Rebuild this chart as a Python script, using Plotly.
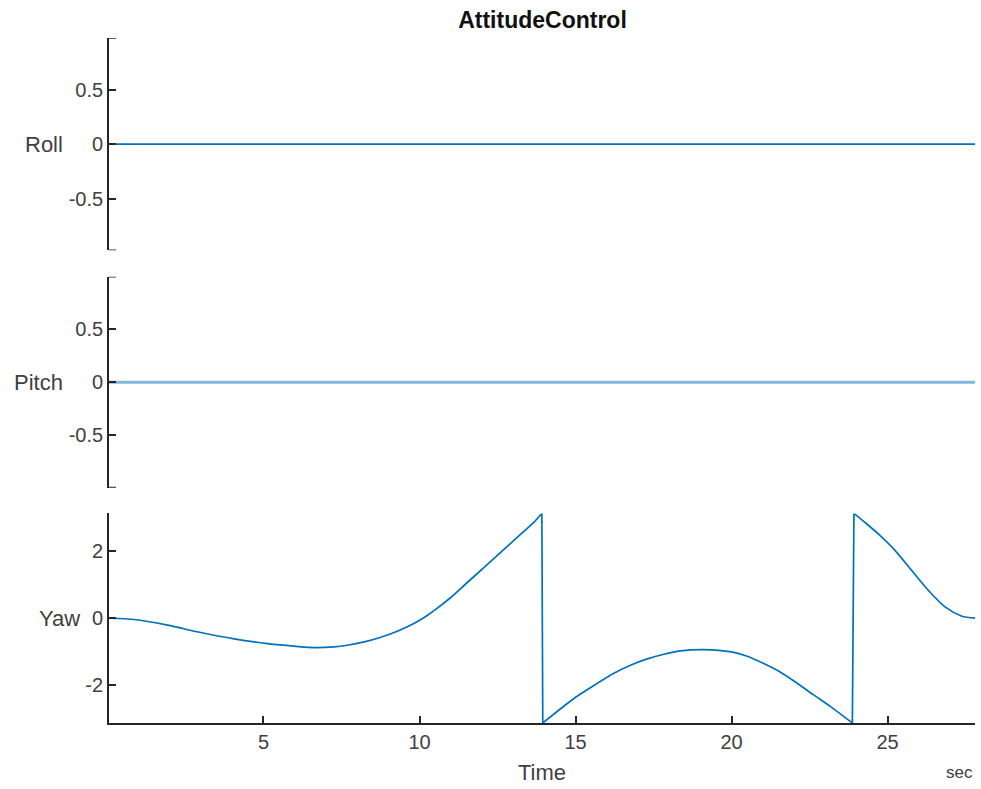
import math
import plotly.graph_objects as go

# ---- data ----
time_roll = [0.0, 27.8]
roll = [0.0, 0.0]
time_pitch = [0.0, 27.8]
pitch = [0.0, 0.0]

time_yaw = [0.0, 0.86, 1.93, 2.99, 4.06, 5.13, 5.56, 6.20, 6.62, 7.26, 7.69, 8.23, 8.76,
            9.29, 9.82, 10.2, 10.57, 11.0, 11.53, 12.07, 12.60, 13.13, 13.67, 13.92,
            13.95, 14.42, 15.0, 15.70, 16.23, 16.76, 17.30, 17.83, 18.36, 19.11,
            20.0, 20.50, 21.03, 21.57, 22.10, 22.63, 23.17, 23.87,
            23.92, 24.3, 24.71, 25.25, 25.78, 26.31, 26.85, 27.38, 27.8]
yaw = [0.0, -0.04, -0.21, -0.43, -0.62, -0.76, -0.80, -0.86, -0.88, -0.86, -0.81, -0.71, -0.57,
       -0.39, -0.16, 0.05, 0.30, 0.62, 1.07, 1.52, 1.97, 2.42, 2.88, 3.14,
       -3.14, -2.79, -2.37, -1.95, -1.65, -1.41, -1.22, -1.08, -0.98, -0.94,
       -1.01, -1.14, -1.36, -1.62, -1.95, -2.30, -2.65, -3.14,
       3.14, 2.85, 2.52, 2.02, 1.42, 0.83, 0.33, 0.06, 0.0]

row_names = ["Roll", "Pitch", "Yaw"]
x_ticks = [5, 10, 15, 20, 25]
roll_ticks = [-0.5, 0, 0.5]
pitch_ticks = [-0.5, 0, 0.5]
yaw_ticks = [-2, 0, 2]

title_text = "AttitudeControl"
x_label = "Time"
x_unit = "sec"

# ---- style ----
W, H = 981, 789
ML, MR, MT, MB = 109, 6, 38, 66
PW = W - ML - MR
FONT = "Liberation Sans, Arial, Helvetica, sans-serif"
BLUE = "rgb(0,114,189)"
AX = "#262626"
TXT = "#404040"
XR = [0.05, 27.8]
roll_lim = 0.977
pitch_lim = 1.0
LW = 1.7

fig = go.Figure()

# split yaw at wrap-arounds: smooth pieces as splines, wraps as straight lines
breaks = [i for i in range(len(yaw) - 1) if abs(yaw[i + 1] - yaw[i]) > math.pi]
starts = [0] + [b + 1 for b in breaks]
ends = [b + 1 for b in breaks] + [len(yaw)]
for s, e in zip(starts, ends):
    fig.add_trace(go.Scatter(x=time_yaw[s:e], y=yaw[s:e], mode="lines",
                             line=dict(color=BLUE, width=1.7, shape="spline", smoothing=0.7),
                             xaxis="x", yaxis="y", showlegend=False, hoverinfo="skip"))
for b in breaks:
    fig.add_trace(go.Scatter(x=time_yaw[b:b + 2], y=yaw[b:b + 2], mode="lines",
                             line=dict(color=BLUE, width=1.7),
                             xaxis="x", yaxis="y", showlegend=False, hoverinfo="skip"))

fig.add_trace(go.Scatter(x=time_pitch, y=pitch, mode="lines",
                         line=dict(color="rgba(0,114,189,0.5)", width=3),
                         xaxis="x2", yaxis="y2", showlegend=False))
fig.add_trace(go.Scatter(x=time_roll, y=roll, mode="lines", line=dict(color=BLUE, width=1.8),
                         xaxis="x3", yaxis="y3", showlegend=False))

tickfont = dict(family=FONT, size=20, color=TXT)

def yax(domain, rng, tv, tt, anchor):
    return dict(domain=domain, range=rng, tickvals=tv, ticktext=tt, anchor=anchor,
                showline=True, linecolor=AX, linewidth=LW, ticks="inside", ticklen=7,
                tickcolor=AX, tickwidth=LW, showgrid=False, zeroline=False,
                tickfont=tickfont, fixedrange=True)

def fmt(v):
    return "0" if v == 0 else ("%g" % v)

fig.update_layout(
    width=W, height=H,
    margin=dict(l=ML, r=MR, t=MT, b=MB),
    paper_bgcolor="white", plot_bgcolor="white",
    xaxis=dict(domain=[0, 1], range=XR, tickvals=x_ticks, ticktext=[str(v) for v in x_ticks],
               anchor="y", showline=True, linecolor=AX, linewidth=LW, ticks="inside",
               ticklen=7, tickcolor=AX, tickwidth=LW, showgrid=False, zeroline=False,
               tickfont=tickfont, fixedrange=True),
    xaxis2=dict(domain=[0, 1], range=XR, anchor="y2", visible=False, fixedrange=True),
    xaxis3=dict(domain=[0, 1], range=XR, anchor="y3", visible=False, fixedrange=True),
    yaxis=yax([0, 0.306], [-math.pi, math.pi], yaw_ticks, [fmt(v) for v in yaw_ticks], "x"),
    yaxis2=yax([0.3435, 0.6515], [-pitch_lim, pitch_lim], pitch_ticks,
               [fmt(v) for v in pitch_ticks], "x2"),
    yaxis3=yax([0.69, 1.0], [-roll_lim, roll_lim], roll_ticks,
               [fmt(v) for v in roll_ticks], "x3"),
    title=dict(text="<b>" + title_text + "</b>", x=(542.5) / W, xanchor="center",
               y=1 - 20 / H, yanchor="middle",
               font=dict(family=FONT, size=23, color="#111111")),
)

# bracket caps at the ends of the Roll / Pitch axes
for yref, lim in (("y3", roll_lim), ("y2", pitch_lim)):
    for v in (-lim, lim):
        fig.add_shape(type="line", xref="paper", yref=yref, x0=0, x1=7 / PW, y0=v, y1=v,
                      line=dict(color=AX, width=LW))

label_font = dict(family=FONT, size=22, color=TXT)
label_right = {"Roll": 65, "Pitch": 65, "Yaw": 82}
label_yref = {"Roll": "y3", "Pitch": "y2", "Yaw": "y"}
for name in row_names:
    fig.add_annotation(text=name, xref="paper", yref=label_yref[name],
                       x=(label_right[name] - ML) / PW, y=0, xanchor="right", yanchor="middle",
                       showarrow=False, font=label_font)

fig.add_annotation(text=x_label, xref="paper", yref="paper", x=(542 - ML) / PW,
                   y=-(773 - 723) / (H - MT - MB), xanchor="center", yanchor="middle",
                   showarrow=False, font=label_font)
fig.add_annotation(text=x_unit, xref="paper", yref="paper", x=1.0,
                   y=-(773 - 723) / (H - MT - MB), xanchor="right", yanchor="middle",
                   showarrow=False, font=dict(family=FONT, size=17, color=TXT))

fig.write_html("out.html", config={"displayModeBar": False},
               post_script="document.body.style.margin='0';")
